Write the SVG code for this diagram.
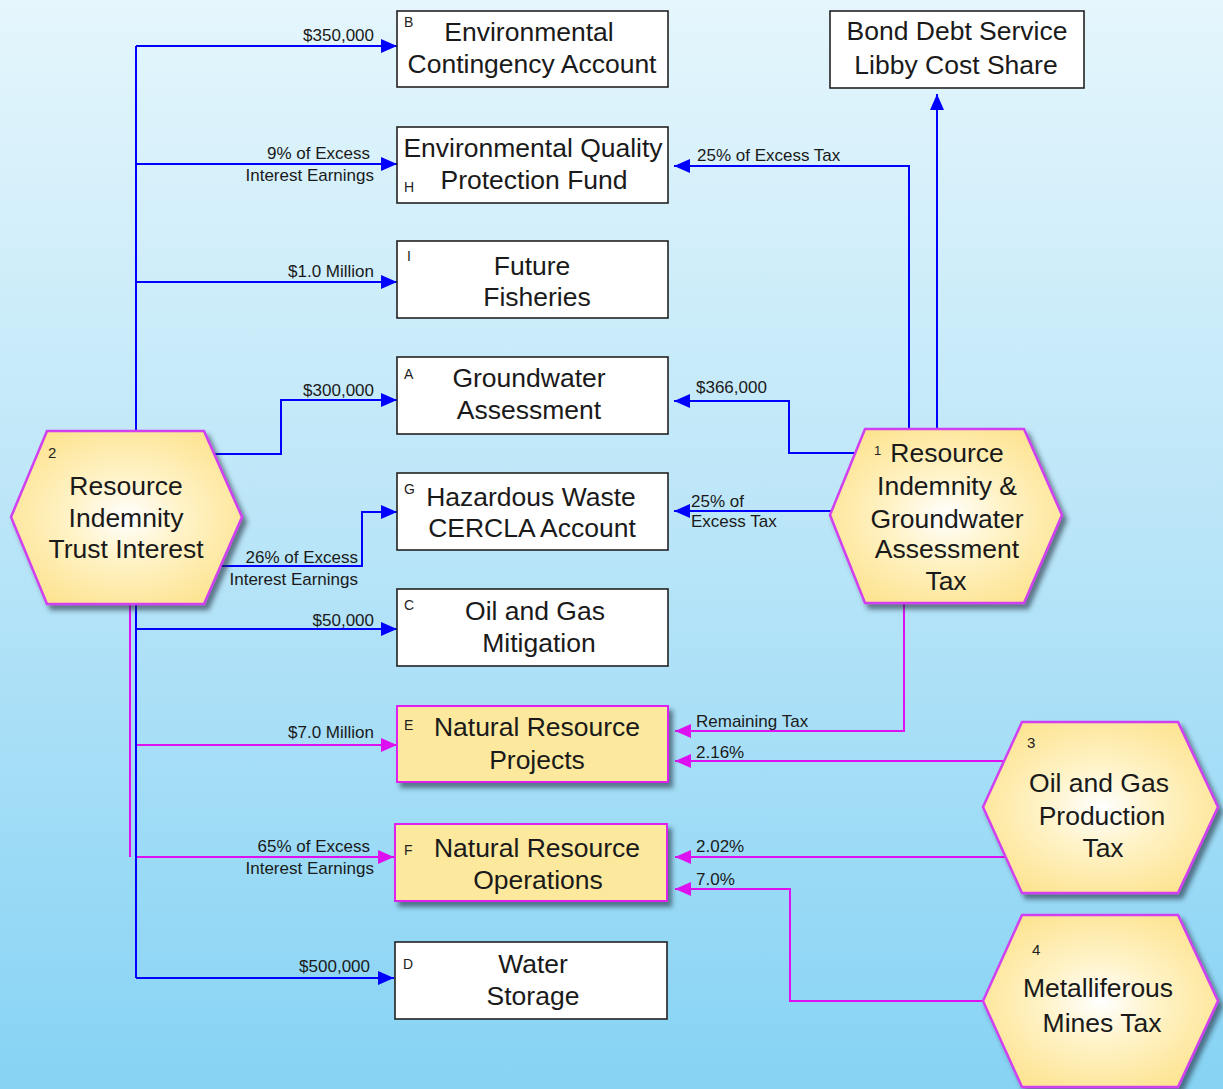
<svg xmlns="http://www.w3.org/2000/svg" width="1223" height="1089" viewBox="0 0 1223 1089">
<defs>
  <linearGradient id="bg" x1="0" y1="0" x2="0" y2="1">
    <stop offset="0" stop-color="#e5f6fc"/>
    <stop offset="0.5" stop-color="#b9e5f8"/>
    <stop offset="1" stop-color="#86d3f4"/>
  </linearGradient>
  <radialGradient id="hexfill" cx="0.5" cy="0.5" r="0.6">
    <stop offset="0" stop-color="#ffffff"/>
    <stop offset="0.4" stop-color="#fff3c8"/>
    <stop offset="1" stop-color="#fde38e"/>
  </radialGradient>
  <filter id="shadow" x="-10%" y="-10%" width="130%" height="130%">
    <feDropShadow dx="4" dy="5" stdDeviation="2.5" flood-color="#1a2a3a" flood-opacity="0.6"/>
  </filter>
  <marker id="ab" markerUnits="userSpaceOnUse" markerWidth="16" markerHeight="14" refX="16" refY="7" orient="auto">
    <path d="M0,0 L16,7 L0,14 z" fill="#0000ff"/>
  </marker>
  <marker id="am" markerUnits="userSpaceOnUse" markerWidth="16" markerHeight="14" refX="16" refY="7" orient="auto">
    <path d="M0,0 L16,7 L0,14 z" fill="#dd11f0"/>
  </marker>
  <style>
    .box{fill:#ffffff;stroke:#222;stroke-width:1.6}
    .ybox{fill:#fde99d;stroke:#dd22f0;stroke-width:2}
    .hex{fill:url(#hexfill);stroke:#d040f0;stroke-width:2.5}
    .t{font-family:"Liberation Sans",Arial,sans-serif;font-size:26.5px;fill:#1a1a1a;text-anchor:middle}
    .s{font-family:"Liberation Sans",Arial,sans-serif;font-size:14px;fill:#222}
    .n{font-family:"Liberation Sans",Arial,sans-serif;font-size:15px;fill:#222}
    .l{font-family:"Liberation Sans",Arial,sans-serif;font-size:17px;fill:#1a1a1a}
    .le{text-anchor:end}
    .bl{fill:none;stroke:#0000ff;stroke-width:2}
    .mg{fill:none;stroke:#dd11f0;stroke-width:2}
  </style>
</defs>
<rect x="0" y="0" width="1223" height="1089" fill="url(#bg)"/>

<g id="connectors">
  <!-- left magenta -->
  <path class="mg" d="M130,604 L130,857"/>
  <path class="mg" d="M136,745 L397,745" marker-end="url(#am)"/>
  <path class="mg" d="M136,857 L394,857" marker-end="url(#am)"/>
  <!-- left trunk (blue) -->
  <path class="bl" d="M136,431 L136,46"/>
  <path class="bl" d="M136,46 L397,46" marker-end="url(#ab)"/>
  <path class="bl" d="M136,164 L397,164" marker-end="url(#ab)"/>
  <path class="bl" d="M136,282 L397,282" marker-end="url(#ab)"/>
  <path class="bl" d="M214,454 L281,454 L281,400 L397,400" marker-end="url(#ab)"/>
  <path class="bl" d="M221,566 L362,566 L362,512 L397,512" marker-end="url(#ab)"/>
  <path class="bl" d="M136,604 L136,978"/>
  <path class="bl" d="M136,629 L397,629" marker-end="url(#ab)"/>
  <path class="bl" d="M136,978 L394,978" marker-end="url(#ab)"/>
  <!-- right side -->
  <path class="bl" d="M909,429 L909,166 L674,166" marker-end="url(#ab)"/>
  <path class="bl" d="M937,429 L937,94" marker-end="url(#ab)"/>
  <path class="bl" d="M855,453 L789,453 L789,401 L674,401" marker-end="url(#ab)"/>
  <path class="bl" d="M831,511 L674,511" marker-end="url(#ab)"/>
  <path class="mg" d="M904,603 L904,731 L675,731" marker-end="url(#am)"/>
  <path class="mg" d="M1004,761 L675,761" marker-end="url(#am)"/>
  <path class="mg" d="M1006,857 L675,857" marker-end="url(#am)"/>
  <path class="mg" d="M983,1001 L790,1001 L790,889 L675,889" marker-end="url(#am)"/>
  <!-- labels -->
  <text class="l le" x="374" y="41">$350,000</text>
  <text class="l le" x="370" y="159">9% of Excess</text>
  <text class="l le" x="374" y="181">Interest Earnings</text>
  <text class="l le" x="374" y="277">$1.0 Million</text>
  <text class="l le" x="374" y="396">$300,000</text>
  <text class="l le" x="358" y="563">26% of Excess</text>
  <text class="l le" x="358" y="585">Interest Earnings</text>
  <text class="l le" x="374" y="626">$50,000</text>
  <text class="l le" x="374" y="738">$7.0 Million</text>
  <text class="l le" x="370" y="852">65% of Excess</text>
  <text class="l le" x="374" y="874">Interest Earnings</text>
  <text class="l le" x="370" y="972">$500,000</text>
  <text class="l" x="697" y="161">25% of Excess Tax</text>
  <text class="l" x="696" y="393">$366,000</text>
  <text class="l" x="691" y="507">25% of</text>
  <text class="l" x="691" y="527">Excess Tax</text>
  <text class="l" x="696" y="727">Remaining Tax</text>
  <text class="l" x="696" y="758">2.16%</text>
  <text class="l" x="696" y="852">2.02%</text>
  <text class="l" x="696" y="885">7.0%</text>
</g>

<g id="node-B">
  <rect class="box" x="397" y="11" width="271" height="76"/>
  <text class="s" x="404" y="27">B</text>
  <text class="t" x="529" y="41">Environmental</text>
  <text class="t" x="532" y="73">Contingency Account</text>
</g>
<g id="node-H">
  <rect class="box" x="397" y="127" width="271" height="76"/>
  <text class="s" x="404" y="192">H</text>
  <text class="t" x="533" y="157">Environmental Quality</text>
  <text class="t" x="534" y="189">Protection Fund</text>
</g>
<g id="node-I">
  <rect class="box" x="397" y="241" width="271" height="77"/>
  <text class="s" x="407" y="261" fill="#5a1a2a">I</text>
  <text class="t" x="532" y="275">Future</text>
  <text class="t" x="537" y="306">Fisheries</text>
</g>
<g id="node-A">
  <rect class="box" x="397" y="357" width="271" height="77"/>
  <text class="s" x="404" y="379">A</text>
  <text class="t" x="529" y="387">Groundwater</text>
  <text class="t" x="529" y="419">Assessment</text>
</g>
<g id="node-G">
  <rect class="box" x="397" y="473" width="271" height="77"/>
  <text class="s" x="404" y="494">G</text>
  <text class="t" x="531" y="506">Hazardous Waste</text>
  <text class="t" x="532" y="537">CERCLA Account</text>
</g>
<g id="node-C">
  <rect class="box" x="397" y="589" width="271" height="77"/>
  <text class="s" x="404" y="610">C</text>
  <text class="t" x="535" y="620">Oil and Gas</text>
  <text class="t" x="539" y="652">Mitigation</text>
</g>
<g id="node-E">
  <rect class="ybox" x="397" y="706" width="271" height="76" filter="url(#shadow)"/>
  <text class="s" x="404" y="730">E</text>
  <text class="t" x="537" y="736">Natural Resource</text>
  <text class="t" x="537" y="769">Projects</text>
</g>
<g id="node-F">
  <rect class="ybox" x="395" y="824" width="272" height="77" filter="url(#shadow)"/>
  <text class="s" x="404" y="855">F</text>
  <text class="t" x="537" y="857">Natural Resource</text>
  <text class="t" x="538" y="889">Operations</text>
</g>
<g id="node-D">
  <rect class="box" x="395" y="942" width="272" height="77"/>
  <text class="s" x="403" y="969">D</text>
  <text class="t" x="533" y="973">Water</text>
  <text class="t" x="533" y="1005">Storage</text>
</g>
<g id="node-bond">
  <rect class="box" x="830" y="11" width="254" height="77"/>
  <text class="t" x="957" y="40">Bond Debt Service</text>
  <text class="t" x="956" y="74">Libby Cost Share</text>
</g>

<g id="node-2">
  <polygon class="hex" points="47,431 204,431 242,517 204,604 47,604 11,517" filter="url(#shadow)"/>
  <text class="n" x="48" y="458">2</text>
  <text class="t" x="126" y="495">Resource</text>
  <text class="t" x="126" y="527">Indemnity</text>
  <text class="t" x="126" y="558">Trust Interest</text>
</g>
<g id="node-1">
  <polygon class="hex" points="865,429 1024,429 1062,515 1024,603 865,603 830,515" filter="url(#shadow)"/>
  <text class="s" x="874" y="455" style="font-size:13px">1</text>
  <text class="t" x="947" y="462">Resource</text>
  <text class="t" x="947" y="495">Indemnity &amp;</text>
  <text class="t" x="947" y="528">Groundwater</text>
  <text class="t" x="947" y="558">Assessment</text>
  <text class="t" x="946" y="590">Tax</text>
</g>
<g id="node-3">
  <polygon class="hex" points="1022,722 1178,722 1218,807 1178,893 1022,893 983,807" filter="url(#shadow)"/>
  <text class="n" x="1027" y="748">3</text>
  <text class="t" x="1099" y="792">Oil and Gas</text>
  <text class="t" x="1102" y="825">Production</text>
  <text class="t" x="1103" y="857">Tax</text>
</g>
<g id="node-4">
  <polygon class="hex" points="1022,915 1178,915 1218,1001 1178,1087 1022,1087 983,1001" filter="url(#shadow)"/>
  <text class="n" x="1032" y="955">4</text>
  <text class="t" x="1098" y="997">Metalliferous</text>
  <text class="t" x="1102" y="1032">Mines Tax</text>
</g>
</svg>
